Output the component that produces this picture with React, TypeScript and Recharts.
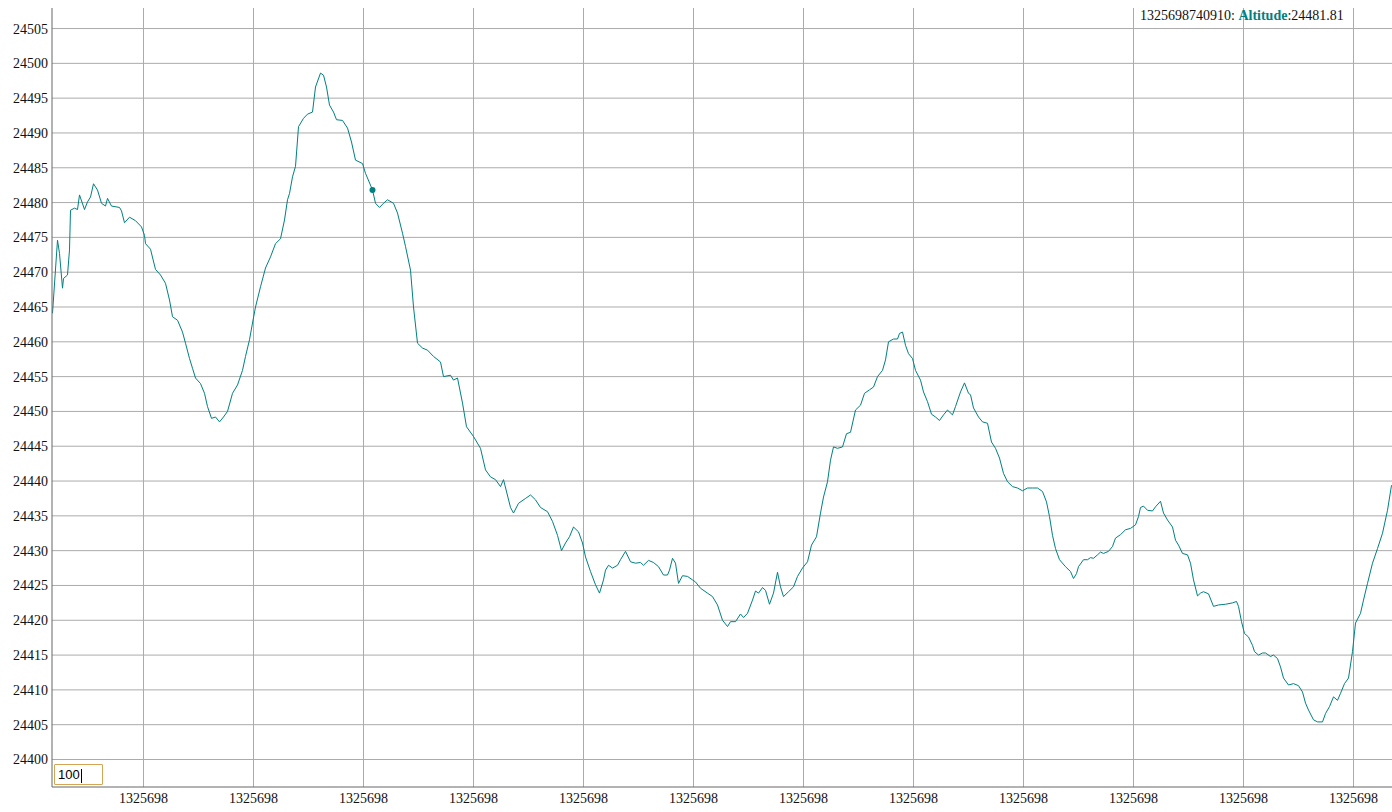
import React from 'react'
import { LineChart, Line, XAxis, YAxis, CartesianGrid } from 'recharts'

// start of the log, ms epoch; one step = 200 ms
const START_MS = 1325698676910
const STEP_MS = 200

// steps since start
const steps = [
  0, 5, 7, 10, 11, 15, 17, 18, 22, 25, 27, 32, 35, 38, 41, 45, 49, 53, 55, 59,
  67, 69, 72, 77, 83, 89, 92, 93, 98, 103, 108, 113, 117, 120, 125, 130, 133, 137, 140, 143,
  148, 152, 155, 159, 163, 167, 171, 175, 180, 185, 190, 193, 197, 200, 203, 208, 213, 218, 223, 228,
  232, 235, 237, 240, 243, 246, 251, 255, 260, 263, 268, 271, 274, 277, 281, 284, 290, 295, 299, 303,
  310, 313, 320, 323, 327, 331, 335, 341, 345, 350, 353, 358, 361, 365, 370, 375, 381, 388, 391, 398,
  401, 405, 410, 414, 421, 428, 433, 438, 443, 448, 451, 458, 461, 466, 473, 478, 483, 488, 495, 500,
  505, 509, 513, 517, 521, 526, 530, 533, 538, 543, 547, 551, 553, 556, 560, 565, 568, 573, 578, 583,
  588, 591, 596, 601, 606, 611, 615, 617, 620, 623, 626, 630, 635, 640, 643, 648, 655, 660, 665, 670,
  675, 678, 683, 688, 691, 695, 700, 703, 706, 710, 713, 717, 721, 725, 728, 731, 736, 741, 745, 750,
  755, 759, 764, 768, 771, 775, 778, 781, 785, 790, 794, 798, 803, 808, 812, 817, 821, 825, 830, 833,
  836, 841, 845, 847, 850, 853, 856, 860, 863, 868, 871, 875, 879, 883, 887, 891, 895, 900, 903, 908,
  912, 916, 918, 921, 926, 930, 935, 939, 943, 947, 951, 955, 960, 965, 970, 975, 980, 985, 990, 994,
  997, 1000, 1003, 1007, 1013, 1018, 1021, 1024, 1026, 1031, 1035, 1038, 1041, 1045, 1048, 1051, 1056, 1060, 1063, 1068,
  1073, 1078, 1083, 1086, 1088, 1091, 1095, 1100, 1103, 1108, 1111, 1115, 1120, 1123, 1126, 1130, 1135, 1138, 1141, 1145,
  1148, 1151, 1156, 1161, 1166, 1173, 1180, 1184, 1186, 1189, 1192, 1196, 1200, 1202, 1206, 1210, 1213, 1218, 1221, 1225,
  1228, 1231, 1236, 1241, 1246, 1250, 1253, 1256, 1261, 1265, 1270, 1273, 1277, 1281, 1285, 1288, 1292, 1296, 1300, 1303,
  1308, 1311, 1315, 1320, 1325, 1330, 1335, 1339,
]

const altitude = [
  24464.1, 24474.6, 24472.7, 24467.7, 24469.1, 24469.6, 24473.2, 24478.9, 24479.2, 24479.0, 24481.1, 24479.0, 24480.1, 24480.8, 24482.7, 24481.8, 24479.9, 24479.5, 24480.6, 24479.5,
  24479.3, 24478.8, 24477.1, 24477.9, 24477.4, 24476.5, 24475.3, 24474.1, 24473.3, 24470.4, 24469.6, 24468.4, 24466.0, 24463.6, 24463.1, 24461.4, 24459.8, 24457.6, 24456.2, 24454.8,
  24454.0, 24452.6, 24450.7, 24449.0, 24449.2, 24448.5, 24449.2, 24450.0, 24452.6, 24453.8, 24455.9, 24457.9, 24460.3, 24462.7, 24465.0, 24467.9, 24470.6, 24472.2, 24474.1, 24474.8,
  24477.5, 24480.4, 24481.3, 24483.7, 24485.2, 24490.9, 24492.1, 24492.7, 24493.0, 24496.6, 24498.6, 24498.3, 24496.6, 24494.0, 24493.0, 24491.9, 24491.8, 24490.7, 24488.7, 24486.1,
  24485.6, 24484.2, 24481.81, 24479.9, 24479.3, 24479.9, 24480.4, 24479.9, 24478.5, 24475.6, 24473.7, 24470.3, 24465.0, 24459.8, 24459.1, 24458.8, 24457.9, 24457.1, 24455.0, 24455.2,
  24454.5, 24454.8, 24451.2, 24447.8, 24446.4, 24444.7, 24441.6, 24440.6, 24440.2, 24439.2, 24440.2, 24436.2, 24435.4, 24436.8, 24437.5, 24438.0, 24437.3, 24436.2, 24435.6, 24434.2,
  24432.2, 24430.0, 24431.1, 24432.0, 24433.4, 24432.7, 24431.1, 24429.1, 24427.0, 24425.1, 24423.9, 24425.8, 24427.2, 24427.9, 24427.5, 24427.9, 24428.7, 24429.9, 24428.4, 24428.2,
  24428.3, 24427.9, 24428.6, 24428.3, 24427.7, 24426.5, 24426.5, 24427.2, 24428.9, 24428.2, 24425.3, 24426.4, 24426.3, 24425.8, 24425.5, 24424.6, 24423.9, 24423.4, 24422.2, 24420.0,
  24419.1, 24419.8, 24419.8, 24420.9, 24420.4, 24421.0, 24422.9, 24424.2, 24423.9, 24424.7, 24424.3, 24422.3, 24423.9, 24426.9, 24424.8, 24423.4, 24424.1, 24424.8, 24426.3, 24427.5,
  24428.4, 24430.8, 24432.0, 24435.4, 24437.7, 24439.9, 24443.0, 24444.9, 24444.7, 24444.9, 24446.8, 24447.0, 24450.2, 24450.9, 24452.6, 24453.1, 24453.5, 24455.0, 24455.9, 24457.4,
  24460.0, 24460.4, 24460.4, 24461.2, 24461.4, 24459.5, 24458.3, 24457.6, 24455.9, 24454.5, 24452.8, 24451.4, 24449.6, 24449.2, 24448.7, 24449.5, 24450.2, 24449.5, 24450.7, 24452.8,
  24454.1, 24452.6, 24452.4, 24450.5, 24449.2, 24448.5, 24448.3, 24445.6, 24444.7, 24443.3, 24441.1, 24439.9, 24439.2, 24439.0, 24438.6, 24439.0, 24439.0, 24439.0, 24438.5, 24437.0,
  24434.9, 24432.2, 24430.3, 24428.7, 24427.7, 24427.0, 24426.0, 24426.7, 24427.7, 24428.7, 24428.7, 24429.0, 24428.9, 24429.4, 24429.8, 24429.6, 24429.9, 24430.6, 24431.8, 24432.3,
  24433.0, 24433.2, 24433.7, 24434.9, 24436.2, 24436.4, 24435.8, 24435.7, 24436.3, 24437.1, 24435.4, 24434.4, 24433.4, 24431.5, 24430.8, 24429.6, 24429.4, 24428.2, 24425.8, 24423.5,
  24423.9, 24424.1, 24423.8, 24422.0, 24422.2, 24422.3, 24422.5, 24422.7, 24422.0, 24419.8, 24418.1, 24417.6, 24416.4, 24415.5, 24415.0, 24415.3, 24415.3, 24414.8, 24415.0, 24414.5,
  24413.3, 24411.7, 24410.7, 24410.9, 24410.6, 24409.7, 24408.1, 24407.1, 24405.7, 24405.4, 24405.4, 24406.6, 24407.6, 24409.0, 24408.5, 24409.5, 24410.9, 24411.7, 24415.5, 24419.6,
  24421.0, 24422.9, 24425.3, 24428.2, 24430.3, 24432.5, 24435.8, 24439.4,
]

// x tick positions, in steps since start
const xTickSteps = [91, 201, 311, 421, 531, 641, 751, 861, 971, 1081, 1191, 1301]
const yTicks = [24400, 24405, 24410, 24415, 24420, 24425, 24430, 24435, 24440, 24445, 24450, 24455, 24460, 24465, 24470, 24475, 24480, 24485, 24490, 24495, 24500, 24505]

const HOVER_INDEX = 82
const TEAL = '#008080'
const SERIF = "'Liberation Serif', 'Times New Roman', serif"

const data = steps.map((s, i) => ({ t: START_MS + s * STEP_MS, Altitude: altitude[i] }))
const hover = data[HOVER_INDEX]
const xTicks = xTickSteps.map((s) => START_MS + s * STEP_MS)

const HoverDot = (props: any) => {
  const { cx, cy, index } = props
  if (index !== HOVER_INDEX) return <g key={`d-${index}`} />
  return <circle key={`d-${index}`} cx={cx} cy={cy} r={3} fill={TEAL} stroke="none" />
}

export default function App() {
  return (
    <div style={{ position: 'absolute', left: 0, top: 0, width: 1392, height: 812, background: '#fff' }}>
      <LineChart
        width={1392}
        height={812}
        data={data}
        margin={{ top: 8, right: 0, bottom: 0, left: 0 }}
      >
        <CartesianGrid stroke="#ababab" strokeWidth={1} horizontalValues={yTicks} verticalValues={xTicks} />
        <XAxis
          dataKey="t"
          type="number"
          domain={[START_MS - 0.5 * STEP_MS, START_MS + 1339.5 * STEP_MS]}
          ticks={xTicks}
          tickFormatter={(v: number) => String(Math.floor(v / 1000000))}
          height={25}
          tickLine={false}
          tickSize={6}
          tickMargin={0}
          axisLine={{ stroke: '#666' }}
          tick={{ fill: '#111', fontSize: 14, fontFamily: SERIF }}
          interval={0}
          allowDataOverflow
        />
        <YAxis
          type="number"
          domain={[24396.05, 24507.95]}
          ticks={yTicks}
          width={52}
          tickLine={false}
          tickSize={4}
          tickMargin={0}
          axisLine={{ stroke: '#666' }}
          tick={{ fill: '#111', fontSize: 14, fontFamily: SERIF }}
          interval={0}
          allowDataOverflow
        />
        <Line
          type="linear"
          dataKey="Altitude"
          stroke={TEAL}
          strokeWidth={1}
          dot={HoverDot}
          activeDot={false}
          isAnimationActive={false}
        />
      </LineChart>
      <div
        style={{
          position: 'absolute',
          left: 1140,
          top: 8,
          fontFamily: SERIF,
          fontSize: 14,
          color: '#111',
          whiteSpace: 'nowrap',
        }}
      >
        {hover.t}: <b style={{ color: TEAL }}>Altitude</b>:{hover.Altitude.toFixed(2)}
      </div>
      <div
        style={{
          position: 'absolute',
          left: 54,
          top: 764,
          width: 44,
          height: 19,
          border: '1.5px solid #d4a555',
          borderRadius: 1,
          background: '#fff',
          fontFamily: "'Liberation Sans', Arial, sans-serif",
          fontSize: 13,
          lineHeight: '19px',
          paddingLeft: 3,
          boxSizing: 'content-box',
          color: '#000',
        }}
      >
        100<span style={{ display: 'inline-block', width: 1, height: 14, background: '#000', verticalAlign: 'middle', marginLeft: 1 }} />
      </div>
    </div>
  )
}
